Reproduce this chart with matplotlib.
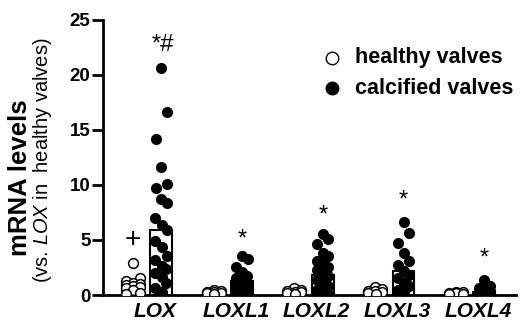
import matplotlib.pyplot as plt
from matplotlib.lines import Line2D
import numpy as np

plt.rcParams['font.family'] = ['Liberation Sans', 'DejaVu Sans']
plt.rcParams['mathtext.fontset'] = 'custom'
plt.rcParams['mathtext.rm'] = 'Liberation Sans'
plt.rcParams['mathtext.it'] = 'Liberation Sans:italic'

genes = ['LOX', 'LOXL1', 'LOXL2', 'LOXL3', 'LOXL4']

healthy = [
    [2.9, 1.5, 1.3, 1.1, 1.0, 0.9, 0.8, 0.7, 0.6, 0.5, 0.2, 0.1],
    [0.45, 0.35, 0.3, 0.25, 0.2, 0.15, 0.1],
    [0.6, 0.45, 0.35, 0.3, 0.25, 0.2, 0.1],
    [0.7, 0.55, 0.4, 0.35, 0.3, 0.2, 0.1],
    [0.3, 0.25, 0.2, 0.15, 0.1, 0.05],
]
calcified = [
    [20.6, 16.6, 14.2, 11.6, 10.1, 9.7, 8.7, 8.4, 7.0, 6.4, 5.9, 4.9, 4.4, 3.5,
     3.2, 2.6, 2.4, 2.0, 1.6, 1.1, 0.6, 0.3],
    [3.5, 3.3, 2.5, 2.1, 1.7, 1.5, 1.3, 1.1, 0.9, 0.7, 0.5, 0.4, 0.3, 0.2, 0.1],
    [5.5, 5.1, 4.6, 3.8, 3.5, 3.1, 2.8, 2.5, 2.3, 2.0, 1.7, 1.4, 1.1, 0.8, 0.5,
     0.3, 0.1],
    [6.6, 5.6, 4.7, 3.8, 3.1, 2.7, 2.2, 1.8, 1.5, 1.1, 0.8, 0.5, 0.2],
    [1.4, 0.8, 0.6, 0.5, 0.4, 0.3, 0.25, 0.2, 0.1, 0.05],
]
healthy_mean = [1.0, 0.25, 0.3, 0.35, 0.15]
calcified_mean = [5.9, 1.3, 1.8, 2.2, 0.3]

marks = ['+', '*', '*', '*', '*']
mark_y = [5.0, 5.0, 7.2, 8.6, 3.3]
lox_mark = '*#'
lox_mark_y = 22.7

fig = plt.figure(figsize=(5.23, 3.24), dpi=100)
ax = fig.add_axes([0.197, 0.0895, 0.79, 0.849])

xg = np.arange(len(genes))
off = 0.175
w = 0.27


def spread(vals, center, width):
    k = np.arange(len(vals))
    return center + width * np.sin(k * 2.1)


for i in range(len(genes)):
    ax.bar(xg[i] - off, healthy_mean[i], width=w, facecolor='white',
           edgecolor='black', linewidth=1.5, zorder=1)
    ax.bar(xg[i] + off, calcified_mean[i], width=w, facecolor='white',
           edgecolor='black', linewidth=1.5, zorder=1)
    ax.plot(spread(healthy[i], xg[i] - off, 0.1), healthy[i], 'o', ms=7,
            mfc='white', mec='black', mew=1.1, zorder=3, linestyle='none')
    ax.plot(spread(calcified[i], xg[i] + off, 0.08), calcified[i], 'o', ms=7,
            mfc='black', mec='black', zorder=3, linestyle='none')

ax.text(xg[0] - off, mark_y[0], marks[0], ha='center', va='center',
        fontsize=20)
for i in range(1, len(genes)):
    ax.text(xg[i] + off, mark_y[i], marks[i], ha='center', va='center',
            fontsize=17)
ax.text(xg[0] + off + 0.02, lox_mark_y, lox_mark, ha='center', va='center',
        fontsize=17)

ax.set_xlim(-0.545, 4.57)
ax.set_ylim(0, 25)
ax.set_yticks([0, 5, 10, 15, 20, 25])
ax.set_xticks(xg + 0.1)
ax.set_xticklabels(genes, fontsize=15, fontweight='bold', style='italic')
ax.tick_params(axis='x', length=0, pad=5)
ax.tick_params(axis='y', length=8, width=2, labelsize=13.5, pad=1)
for lab in ax.get_yticklabels():
    lab.set_fontweight('bold')
for s in ['top', 'right']:
    ax.spines[s].set_visible(False)
for s in ['left', 'bottom']:
    ax.spines[s].set_linewidth(2)

fig.text(0.039, 0.453, 'mRNA levels', rotation=90, ha='center', va='center',
         fontsize=18.5, fontweight='bold')
fig.text(0.082, 0.507, r'(vs. $\it{LOX}$ in  healthy valves)', rotation=90,
         ha='center', va='center', fontsize=14.5)

# legend
fig.add_artist(Line2D([0.635], [0.821], marker='o', ms=9, mfc='white',
                      mec='black', mew=1, transform=fig.transFigure))
fig.add_artist(Line2D([0.635], [0.728], marker='o', ms=9, mfc='black',
                      mec='black', transform=fig.transFigure))
fig.text(0.679, 0.821, 'healthy valves', ha='left', va='center',
         fontsize=15.5, fontweight='bold')
fig.text(0.679, 0.728, 'calcified valves', ha='left', va='center',
         fontsize=15.5, fontweight='bold')

fig.savefig('out.png', dpi=100)
